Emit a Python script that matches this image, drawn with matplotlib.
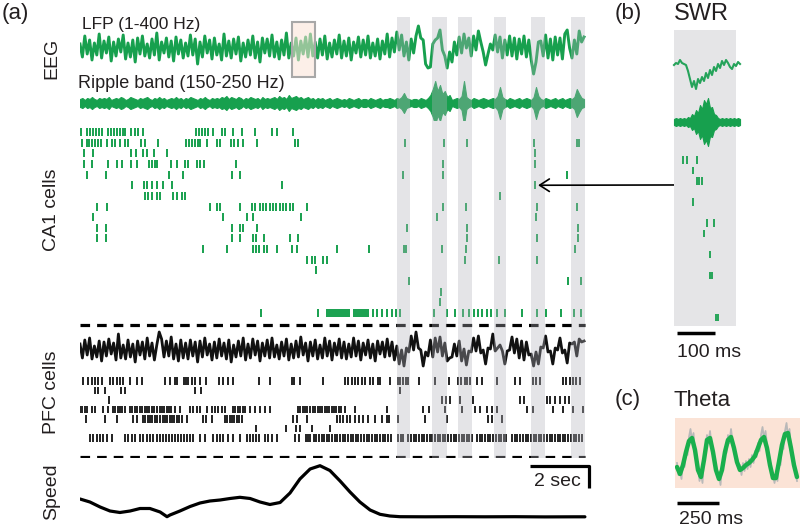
import numpy as np
import matplotlib
matplotlib.use("Agg")
import matplotlib.pyplot as plt

plt.rcParams['font.family'] = ['Liberation Sans', 'DejaVu Sans']

# ---------------- data (panel a, time in s) ----------------
swr_start = [10.57, 11.73, 12.60, 13.80, 15.03, 16.37]
swr_end = [11.00, 12.23, 13.07, 14.20, 15.50, 16.83]

lfp_dt = 0.08
lfp = [4, -9, 12, -6, 8, -12, 5, -7, 14, -10,
       7, -5, 11, -13, 6, -8, 9, -4, 13, -11,
       5, -9, 8, -14, 10, -6, 12, -8, 4, -10,
       9, -7, 15, -12, 6, -5, 10, -9, 7, -13,
       11, -6, 8, -10, 5, -8, 13, -7, 9, -16,
       6, -9, 12, -5, 8, -11, 10, -7, 4, -12,
       14, -8, 7, -10, 9, -6, 11, -13, 5, -9,
       8, -7, 12, -10, 6, -14, 10, -5, 9, -8,
       13, -9, 6, -11, 8, -7, 15, -10, 5, -8,
       10, -12, 7, -6, 11, -9, 14, -8, 6, -10,
       9, -7, 12, -11, 5, -9, 8, -6, 13, -10,
       7, -8, 10, -12, 6, -5, 11, -9, 8, -7,
       12, -10, 5, -8, 9, -11, 7, -6, 14, -9,
       10, -4, 16, -2, 13, -8, 6, -12, 9, -5,
       12, 22, 10, 8, -16, -20, -19, 4, 8, 10,
       18, -2, -8, -20, -4, -14, 6, -7, 11, -5,
       14, 0, 10, -8, 12, -2, 17, 6, -4, -17,
       -6, 4, -2, 13, -4, 11, -10, 8, -7, 12,
       -8, 10, -11, 9, -6, 12, -9, 8, -12, -26,
       -14, 6, 7, -8, 13, -10, 9, -12, 11, -7,
       10, -11, 14, 18, 0, -10, 8, -6, 17, 6, 11]

ripple_env = [4, 5, 3, 5, 4, 6, 4, 3, 5, 4,
              5, 4, 6, 3, 4, 5, 4, 6, 5, 3,
              4, 6, 5, 4, 3, 5, 4, 5, 6, 4,
              3, 5, 4, 6, 4, 5, 3, 4, 5, 4,
              6, 4, 5, 3, 5, 4, 6, 5, 4, 3,
              5, 4, 6, 4, 3, 5, 4, 5, 4, 6,
              5, 7, 4, 6, 5, 4, 6, 5, 3, 5,
              4, 6, 5, 4, 5, 3, 6, 4, 5, 4,
              5, 6, 4, 7, 5, 6, 4, 8, 5, 6,
              7, 5, 6, 4, 5, 6, 4, 5, 3, 5,
              4, 5, 3, 4, 5, 3, 4, 5, 4, 3,
              4, 3, 5, 4, 3, 4, 5, 3, 4, 4,
              3, 5, 4, 3, 4, 5, 3, 4, 4, 5,
              4, 3, 5, 4, 6, 10, 5, 4, 3, 4,
              4, 3, 5, 4, 3, 5, 8, 14, 22, 12,
              18, 9, 12, 6, 8, 3, 4, 5, 4, 7,
              22, 6, 4, 3, 5, 4, 3, 4, 5, 4,
              3, 4, 5, 4, 7, 16, 6, 4, 3, 5,
              4, 3, 4, 5, 3, 4, 5, 4, 3, 6,
              16, 7, 4, 3, 5, 4, 3, 4, 5, 3,
              4, 5, 3, 4, 5, 4, 6, 14, 9, 5, 4]

pfc_lfp = [6, -8, 10, -5, 12, -9, 4, -7, 9, -11,
           8, -6, 11, -4, 7, -10, 16, -8, 5, -9,
           10, -7, 6, -12, 9, -5, 8, -9, 12, -6,
           7, -10, 5, 18, 11, -7, 9, -6, 13, -9,
           6, -11, 10, -8, 7, -9, 10, -6, 8, -12,
           9, -7, 12, -5, 6, -10, 8, -8, 11, -6,
           7, -9, 10, -12, 5, -7, 9, -6, 12, -10,
           6, -8, 11, -5, 9, -11, 7, -6, 10, -8,
           12, -7, 5, -9, 8, -6, 11, -10, 6, -8,
           9, -7, 13, -5, 7, -11, 8, -6, 10, -9,
           5, -8, 12, -6, 9, -10, 7, -5, 11, -8,
           8, -9, 6, -7, 12, -6, 9, -10, 7, -5,
           10, -8, 6, -11, 9, -4, 8, -7, 11, -6,
           8, -10, 4, -14, 0, -16, 2, -2, 14, 0,
           18, 2, 0, -16, -2, -6, 10, -7, 12, -2,
           13, -6, 7, -11, -8, -7, 6, -6, 9, -11,
           1, -15, -1, -2, 12, -1, 14, -3, 0, -14,
           2, 1, 16, -1, 2, 5, -1, -14, -1, 0,
           13, -3, 11, -8, 9, -10, 8, -5, -4, -16,
           -2, -14, 3, 2, 14, -2, -1, -14, 2, 0,
           12, -3, 0, -13, 7, 6, 8, -6, 11, 8, 9]

ca1_spikes = [
    [0.03, 0.23, 0.33, 0.43, 0.53, 0.63, 0.73, 0.93, 1.03, 1.13, 1.23, 1.33, 1.43, 1.50, 1.70, 1.83, 1.93,
     2.10, 3.87, 3.97, 4.07, 4.17, 4.27, 4.43, 4.73, 4.83, 5.10, 5.40, 5.83, 6.40, 6.57, 7.10],
    [0.07, 0.23, 0.30, 0.40, 0.50, 0.60, 0.70, 0.90, 1.07, 1.17, 1.33, 1.50, 1.60, 2.03, 2.17, 2.60, 3.53,
     3.63, 3.73, 3.83, 3.93, 4.00, 4.23, 4.57, 4.67, 5.03, 5.13, 5.27, 5.43, 5.90, 7.17, 7.27, 10.83, 12.13,
     12.90, 15.13, 16.57, 16.63],
    [0.13, 0.43, 1.70, 1.87, 2.10, 2.23, 2.47, 2.90, 15.17],
    [0.13, 0.40, 0.93, 1.23, 1.40, 1.70, 1.90, 2.30, 2.40, 2.50, 2.57, 3.03, 3.23, 3.50, 3.60, 3.90, 4.00,
     4.13, 5.20, 12.10, 15.17],
    [0.23, 0.87, 2.97, 3.43, 5.07, 5.33, 10.77, 12.10, 16.23],
    [1.73, 2.13, 2.23, 2.40, 2.57, 2.77, 3.07, 6.73, 15.17],
    [2.17, 2.27, 2.40, 2.57, 2.67, 3.10, 3.23, 3.40, 3.50, 14.00],
    [0.57, 0.90, 4.33, 4.57, 4.67, 5.33, 5.73, 5.83, 6.00, 6.10, 6.20, 6.33, 6.43, 6.53, 6.67, 6.77, 6.87,
     7.00, 7.10, 7.57, 12.10, 12.87, 15.23, 16.57],
    [0.43, 4.77, 5.57, 5.77, 7.37, 11.90, 15.20],
    [0.57, 0.87, 5.07, 5.33, 5.43, 5.90, 10.90, 12.90, 16.60],
    [0.57, 0.87, 5.07, 5.33, 5.77, 5.87, 6.13, 7.00, 7.27, 12.90, 15.23, 16.60],
    [4.10, 4.90, 5.77, 5.87, 5.97, 6.13, 6.23, 6.57, 7.07, 7.23, 8.57, 9.63, 10.80, 10.87, 12.07, 12.87, 16.50],
    [7.57, 7.73, 7.83, 8.10, 8.23, 12.83, 13.97, 15.23],
    [7.87],
    [10.97, 16.27, 16.70],
    [12.03],
    [12.00],
    [6.03, 7.93, 8.23, 8.30, 8.37, 8.43, 8.50, 8.57, 8.63, 8.70, 8.77, 8.83, 8.90, 8.97, 9.13, 9.20, 9.27,
     9.33, 9.40, 9.47, 9.53, 9.60, 9.77, 9.90, 10.07, 10.23, 10.40, 10.53, 10.67, 11.80, 12.23, 12.50,
     12.77, 12.97, 13.13, 13.27, 13.40, 13.57, 13.70, 13.90, 14.17, 14.73, 15.23, 15.53, 16.03, 16.47, 16.70],
]

pfc_spikes = [
    [0.10, 0.27, 0.40, 0.50, 0.60, 0.73, 1.00, 1.10, 1.23, 1.33, 1.43, 1.67, 1.90, 2.07, 2.83, 3.00, 3.17,
     3.23, 3.47, 3.53, 3.60, 3.73, 3.83, 4.00, 4.20, 4.63, 4.77, 4.93, 5.10, 5.97, 6.33, 7.07, 7.13, 7.33,
     8.10, 8.83, 8.93, 9.07, 9.17, 9.27, 9.40, 9.50, 9.67, 9.77, 9.93, 10.00, 10.33, 10.60, 10.67, 10.77,
     10.87, 10.93, 11.30, 11.83, 12.30, 12.60, 12.70, 12.83, 12.90, 13.00, 13.23, 13.40, 13.90, 14.50,
     14.67, 15.10, 15.20, 15.33, 16.10, 16.20, 16.33, 16.43, 16.53, 16.67],
    [0.50, 0.60, 0.83, 1.37, 1.50, 3.83, 4.03, 10.67],
    [0.97, 12.07, 12.20, 12.33, 12.67, 13.10, 14.67, 14.80, 15.57, 15.67, 15.83, 16.00, 16.17, 16.30],
    [0.00, 0.07, 0.17, 0.23, 0.40, 0.50, 0.77, 0.93, 1.10, 1.17, 1.27, 1.33, 1.40, 1.50, 1.67, 1.73, 1.83,
     1.90, 2.00, 2.07, 2.17, 2.24, 2.31, 2.41, 2.48, 2.55, 2.65, 2.72, 2.79, 2.89, 2.96, 3.04, 3.17, 3.33,
     3.67, 3.77, 3.90, 4.00, 4.23, 4.40, 4.50, 4.60, 4.73, 4.83, 5.10, 5.18, 5.26, 5.34, 5.42, 5.50, 5.67,
     5.83, 6.00, 6.17, 6.33, 7.27, 7.34, 7.44, 7.51, 7.58, 7.68, 7.75, 7.82, 7.92, 7.99, 8.06, 8.16, 8.23,
     8.30, 8.40, 8.47, 8.54, 8.64, 8.71, 8.83, 9.17, 10.23, 11.43, 11.63, 12.17, 12.73, 13.17, 13.33,
     13.57, 13.73, 13.90, 14.90, 15.10, 15.77, 16.10, 16.43, 16.77],
    [0.20, 0.83, 1.23, 1.77, 1.90, 2.10, 2.17, 2.27, 2.34, 2.41, 2.51, 2.58, 2.65, 2.75, 2.82, 2.89, 2.99,
     3.06, 3.13, 3.23, 3.30, 3.40, 3.57, 4.10, 4.20, 4.40, 4.83, 4.90, 5.00, 5.07, 5.14, 5.24, 5.31, 5.40,
     7.10, 7.23, 7.57, 8.57, 8.67, 8.77, 8.90, 9.00, 9.17, 9.30, 9.43, 9.60, 9.83, 10.07, 10.23, 10.30,
     10.60, 11.50, 12.23, 13.60, 13.73, 14.07],
    [5.87, 6.87, 7.20, 7.33, 7.73, 8.33],
    [0.33, 0.43, 0.57, 0.67, 0.77, 0.90, 1.07, 1.50, 1.60, 1.73, 1.83, 2.00, 2.10, 2.23, 2.33, 2.43, 2.57,
     2.67, 2.77, 2.87, 2.97, 3.07, 3.17, 3.27, 3.37, 3.47, 3.57, 3.67, 3.77, 4.00, 4.17, 4.43, 4.57, 4.67,
     4.77, 4.93, 5.10, 5.33, 5.57, 5.67, 5.77, 5.87, 5.97, 6.17, 6.27, 6.40, 6.57, 7.17, 7.30, 7.53, 7.60,
     7.68, 7.79, 7.87, 7.96, 8.05, 8.13, 8.24, 8.31, 8.40, 8.50, 8.57, 8.66, 8.76, 8.83, 8.93, 9.02, 9.10,
     9.21, 9.28, 9.37, 9.47, 9.55, 9.64, 9.73, 9.82, 9.90, 10.00, 10.10, 10.17, 10.27, 10.37, 10.60, 10.70,
     10.77, 10.93, 11.03, 11.12, 11.20, 11.30, 11.39, 11.47, 11.57, 11.66, 11.73, 11.83, 11.92, 12.00,
     12.10, 12.18, 12.27, 12.37, 12.45, 12.53, 12.63, 12.72, 12.80, 12.90, 12.97, 13.07, 13.23, 13.33,
     13.41, 13.50, 13.60, 13.68, 13.77, 13.87, 13.95, 14.03, 14.13, 14.20, 14.40, 14.50, 14.57, 14.67,
     14.77, 14.85, 14.93, 15.03, 15.13, 15.20, 15.30, 15.38, 15.47, 15.57, 15.65, 15.73, 15.83, 15.92,
     16.00, 16.10, 16.17, 16.27, 16.37, 16.45, 16.53, 16.63, 16.72],
]

speed_t = [0.0, 0.33, 0.67, 1.0, 1.33, 1.67, 2.0, 2.33, 2.67, 2.9, 3.0, 3.33, 3.67, 4.0, 4.33, 4.67, 5.0,
           5.33, 5.67, 6.0, 6.33, 6.67, 7.0, 7.33, 7.67, 8.0, 8.33, 8.67, 9.0, 9.33, 9.67, 10.0, 10.33,
           10.67, 11.5, 12.5, 13.5, 14.5, 15.5, 16.5, 16.83]
speed = [18, 15, 10, 6, 4.5, 6, 8.5, 8.5, 5, 0.3, 2, 6, 10.5, 14, 16, 17, 18.5, 19.7, 18.5, 15, 12.5,
         14.5, 24, 38, 48, 51.3, 46.5, 36, 25, 15, 7, 2.7, 1, 0.3, 0.2, 0.3, 0.2, 0.3, 0.1, 0.2, 0.2]

# ---------------- panel b (time in ms) ----------------
swr_dt = 5.26
swr_lfp = [0, 2, 1, 5, 2, 1, 0, -6, -14, -22, -16, -24, -14, -18, -12, -16, -8, -13, -5, -10,
           -2, -6, 1, -3, 4, 0, 5, 2, -2, -4, 1, -1, 3, 1]
swr_ripple_env = [3, 4, 3, 4, 3, 4, 3, 5, 4, 8, 6, 12, 9, 17, 13, 22, 18, 24, 14, 15,
                  8, 7, 4, 3, 4, 3, 4, 3, 4, 3, 4, 3, 4, 3]
swr_rows = [0, 1, 2, 4, 6, 7, 9, 11, 15]
swr_spikes = [[23.7, 34.2, 60.5], [50.0], [60.5, 65.8, 73.6], [50.0], [86.8, 105.2], [78.9],
              [94.7], [94.7, 100.0], [110.5, 115.7]]

# ---------------- panel c (time in ms) ----------------
theta_t0, theta_dt = 11.9, 17.85
theta_filt = [-14, -21, -12, 1, 12, 15, 3, -17, -24, -7, 13, 15, 1, -17, -26, -17, 1, 13, 16, 5,
              -9, -17, -15, -12, -10, -7, -3, 5, 13, 16, 5, -12, -25, -25, -9, 8, 19, 20, 5, -12, -24]
raw_dt = 8.93
theta_raw = [-10, -22, -18, -26, -8, -14, 4, -2, 16, 24, 12, 20, 0, -8, -14, -28, -20, -30, -4, 4,
             18, 10, 22, 8, 4, -10, -12, -24, -22, -32, -14, -6, 6, 0, 18, 10, 24, 12, 8, -4,
             -4, -16, -12, -22, -10, -18, -8, -16, -6, -14, -2, -10, 2, -4, 10, 2, 18, 26, 14, 22,
             8, 0, -8, -18, -22, -30, -20, -28, -4, -12, 12, 4, 22, 30, 16, 24, 2, -6, -8, -20, -28]

# ---------------- styling ----------------
W, H = 800, 528
GREEN = '#17a04e'
TXT = '#231f20'
BAND = (0.70, 0.70, 0.74)
fig = plt.figure(figsize=(W / 100, H / 100), dpi=100)


def make_ax(x0, y0, x1, y1, face=None):
    ax = fig.add_axes([x0 / W, 1 - y1 / H, (x1 - x0) / W, (y1 - y0) / H])
    for s in ax.spines.values():
        s.set_visible(False)
    ax.set_xticks([])
    ax.set_yticks([])
    if face is None:
        ax.patch.set_visible(False)
    else:
        ax.set_facecolor(face)
    return ax


def ftext(x, y, s, **kw):
    kw.setdefault('color', TXT)
    fig.text(x / W, 1 - y / H, s, **kw)


TMAX = 17.0
ax_eeg = make_ax(80, 17, 590, 120)
ax_ca1 = make_ax(80, 120, 590, 320)
ax_pl = make_ax(80, 320, 590, 370)
ax_pr = make_ax(80, 370, 590, 458)
ax_sp = make_ax(80, 458, 590, 528)
for ax in (ax_eeg, ax_ca1, ax_pl, ax_pr, ax_sp):
    ax.set_xlim(0, TMAX)

ax_eeg.set_ylim(-72, 31)
ax_ca1.set_ylim(17.66, -1.13)
ax_pl.set_ylim(-20, 30)
ax_pr.set_ylim(8.1, -1.16)
ax_sp.set_ylim(-11, 59)

# EEG traces
t_lfp = np.arange(len(lfp)) * lfp_dt
ax_eeg.plot(t_lfp, lfp, color=GREEN, lw=2.1, zorder=2)
env = np.array(ripple_env)
t_rip = np.arange(len(env)) * lfp_dt
ax_eeg.fill_between(t_rip, -55 - env, -55 + env, color=GREEN, lw=0.8, zorder=2)
ax_eeg.add_patch(plt.Rectangle((7.07, -29), 0.76, 55, facecolor=(0.98, 0.89, 0.84, 0.55),
                               edgecolor='#a8a8a8', lw=1.5, zorder=7))

# CA1 raster
ax_ca1.eventplot(ca1_spikes, lineoffsets=np.arange(len(ca1_spikes)), linelengths=0.75,
                 linewidths=1.4, colors=GREEN, zorder=2)

# PFC lfp and raster
t_pfc = np.arange(len(pfc_lfp)) * lfp_dt
ax_pl.plot(t_pfc, pfc_lfp, color='#111111', lw=2.0, zorder=2)
ax_pl.axhline(25, xmin=0, xmax=16.83 / TMAX, color='k', lw=2.3, ls=(0, (3.0, 2.2)), zorder=2)
ax_pr.eventplot(pfc_spikes, lineoffsets=np.arange(len(pfc_spikes)), linelengths=0.8,
                linewidths=1.3, colors='#111111', zorder=2)
ax_pr.axhline(8.0, xmin=0, xmax=16.83 / TMAX, color='k', lw=2.3, ls=(0, (3.0, 2.2)), zorder=2)

# SWR bands
for ax in (ax_eeg, ax_ca1, ax_pl, ax_pr):
    for s, e in zip(swr_start, swr_end):
        ax.axvspan(s, e, color=BAND, alpha=0.35, lw=0, zorder=5)

# speed
ax_sp.plot(speed_t, speed, color='k', lw=2.3, solid_capstyle='round', solid_joinstyle='round')
ax_sp.plot([15.0, 16.95, 16.95], [51, 51, 29], color='k', lw=2.3, solid_capstyle='butt', clip_on=False)
ax_sp.text(15.9, 35, '2 sec', fontsize=14, ha='center', va='center', color=TXT)

# labels panel a
ftext(2, 14, '(a)', fontsize=16, ha='left', va='center')
ftext(82, 25, 'LFP (1-400 Hz)', fontsize=12.5, ha='left', va='center')
ftext(78, 83, 'Ripple band (150-250 Hz)', fontsize=13, ha='left', va='center')
ftext(52, 58, 'EEG', fontsize=14, rotation=90, ha='center', va='center')
ftext(52, 210, 'CA1 cells', fontsize=14, rotation=90, ha='center', va='center')
ftext(52, 392, 'PFC cells', fontsize=14, rotation=90, ha='center', va='center')
ftext(52, 492, 'Speed', fontsize=14, rotation=90, ha='center', va='center')

# ---------------- panel b ----------------
BOXG = '#e5e5e7'
ax_b1 = make_ax(674, 30, 736, 150, face=BOXG)
ax_b2 = make_ax(674, 150, 736, 326, face=BOXG)
for ax in (ax_b1, ax_b2):
    ax.set_xlim(0, 163)
ax_b1.set_ylim(-85, 35)
ax_b2.set_ylim(15.81, -0.95)
tb = np.arange(len(swr_lfp)) * swr_dt
ax_b1.plot(tb, swr_lfp, color='#25a35a', lw=1.5, clip_on=False)
benv = np.array(swr_ripple_env)
ax_b1.fill_between(tb, -57 - benv, -57 + benv, color=GREEN, lw=0.8, clip_on=False)
ax_b2.eventplot(swr_spikes, lineoffsets=swr_rows, linelengths=0.75, linewidths=1.3, colors=GREEN)
ax_b2.plot([7.9, 107.9], [16.48, 16.48], color='k', lw=2.5, solid_capstyle='butt', clip_on=False)
ax_b2.text(92, 18.3, '100 ms', fontsize=14, ha='center', va='center', color=TXT, clip_on=False)
ftext(615, 14, '(b)', fontsize=16, ha='left', va='center')
ftext(674, 14, 'SWR', fontsize=17, ha='left', va='center')

ax_ca1.annotate('', xy=(15.27, 5.0), xycoords='data',
                xytext=(0, (185 - 160) / 10.5), textcoords=ax_b2.transData,
                arrowprops=dict(arrowstyle='->,head_length=0.7,head_width=0.45', color='k',
                                lw=1.2, shrinkA=0, shrinkB=0, mutation_scale=10),
                annotation_clip=False, zorder=10)

# ---------------- panel c ----------------
ax_c = make_ax(675, 418, 800, 488, face='#fbe3d6')
ax_c.set_xlim(0, 744)
ax_c.set_ylim(-35, 35)
tr = theta_t0 + np.arange(len(theta_raw)) * raw_dt
tf = theta_t0 + np.arange(len(theta_filt)) * theta_dt
ax_c.plot(tr, theta_raw, color='#b9b9b9', lw=1.3, clip_on=False)
ax_c.plot(tf, theta_filt, color='#1aaf4c', lw=3.2, solid_joinstyle='round', solid_capstyle='round')
ax_c.plot([11.9, 261.9], [-50, -50], color='k', lw=2.5, solid_capstyle='butt', clip_on=False)
ax_c.text(214, -67, '250 ms', fontsize=14, ha='center', va='center', color=TXT, clip_on=False)
ftext(615, 400, '(c)', fontsize=16, ha='left', va='center')
ftext(673, 400, 'Theta', fontsize=16, ha='left', va='center')

fig.savefig('out.png', dpi=100)
